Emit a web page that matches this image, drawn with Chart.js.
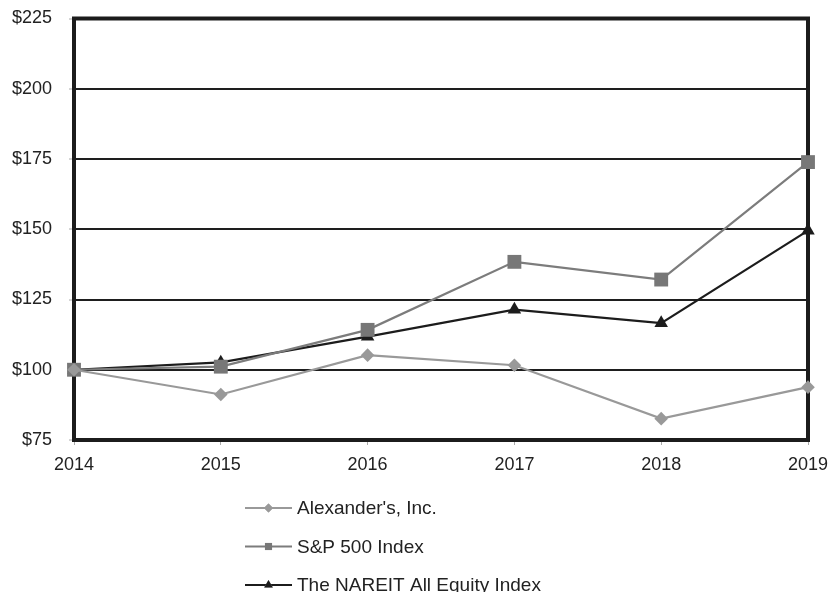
<!DOCTYPE html>
<html>
<head>
<meta charset="utf-8">
<script src="https://cdn.jsdelivr.net/npm/chart.js@4"></script>
<style>
html,body{margin:0;padding:0;background:#fff;}
#wrap{width:832px;height:592px;position:relative;}
</style>
</head>
<body>
<div id="wrap"><canvas id="c" width="832" height="592"></canvas></div>
<script>
const years = ["2014", "2015", "2016", "2017", "2018", "2019"];
const alexanders = [100, 91.2, 105.2, 101.6, 82.6, 93.8];
const sp500 = [100, 101.1, 114.2, 138.4, 132.1, 173.9];
const nareit = [100, 102.6, 111.8, 121.4, 116.6, 149.5];
const seriesNames = ["Alexander's, Inc.", "S&P 500 Index", "The NAREIT All Equity Index"];
const yTicks = [75, 100, 125, 150, 175, 200, 225];

const FONT = "'Liberation Sans', Arial, sans-serif";

const borderPlugin = {
  id: 'plotBorder',
  beforeDatasetsDraw(chart) {
    const a = chart.chartArea, ctx = chart.ctx;
    ctx.save();
    ctx.strokeStyle = '#1c1c1c';
    ctx.lineWidth = 4;
    ctx.strokeRect(a.left, a.top, a.right - a.left, a.bottom - a.top);
    ctx.restore();
  }
};

const legendPlugin = {
  id: 'vLegend',
  afterDraw(chart) {
    const ctx = chart.ctx;
    const x0 = 245, x1 = 292, rowY = [508, 546.5, 585];
    const markerR = [4.5, 5, 5];
    chart.data.datasets.forEach((ds, i) => {
      const y = rowY[i];
      ctx.save();
      ctx.strokeStyle = ds.borderColor;
      ctx.lineWidth = 2;
      ctx.beginPath();
      ctx.moveTo(x0, y);
      ctx.lineTo(x1, y);
      ctx.stroke();
      Chart.helpers.drawPoint(ctx, {
        pointStyle: ds.pointStyle,
        radius: markerR[i],
        borderWidth: 0,
        rotation: 0
      }, (x0 + x1) / 2, y);
      ctx.fillStyle = ds.pointBackgroundColor;
      ctx.fill();
      ctx.fillStyle = '#222';
      ctx.font = '19px ' + FONT;
      ctx.textBaseline = 'middle';
      ctx.textAlign = 'left';
      ctx.fillText(ds.label, 297, y + 1);
      ctx.restore();
    });
  }
};

new Chart(document.getElementById('c'), {
  type: 'line',
  data: {
    labels: years,
    datasets: [
      {
        label: seriesNames[0], data: alexanders,
        borderColor: '#999999', backgroundColor: '#999999',
        pointBackgroundColor: '#999999', pointBorderColor: '#999999',
        pointStyle: 'rectRot', pointRadius: 6.8, pointBorderWidth: 0,
        borderWidth: 2.2, tension: 0, clip: false
      },
      {
        label: seriesNames[1], data: sp500,
        borderColor: '#7c7c7c', backgroundColor: '#777777',
        pointBackgroundColor: '#777777', pointBorderColor: '#777777',
        pointStyle: 'rect', pointRadius: 9.8, pointBorderWidth: 0,
        borderWidth: 2.2, tension: 0, clip: false
      },
      {
        label: seriesNames[2], data: nareit,
        borderColor: '#1c1c1c', backgroundColor: '#1c1c1c',
        pointBackgroundColor: '#1c1c1c', pointBorderColor: '#1c1c1c',
        pointStyle: 'triangle', pointRadius: 7.8, pointBorderWidth: 0,
        borderWidth: 2.2, tension: 0, clip: false
      }
    ]
  },
  options: {
    responsive: false,
    animation: false,
    devicePixelRatio: 1,
    layout: { autoPadding: false, padding: { top: 18.5, right: 24, left: 0, bottom: 0 } },
    plugins: {
      legend: { display: false },
      tooltip: { enabled: false }
    },
    scales: {
      x: {
        type: 'category',
        offset: false,
        grid: { drawOnChartArea: false, drawTicks: true, tickLength: 5, tickColor: '#aaaaaa', tickWidth: 1 },
        border: { display: false },
        ticks: { color: '#222', font: { family: FONT, size: 18 }, padding: 9, maxRotation: 0, autoSkip: false },
        afterFit(s) { s.height = 152; s.paddingLeft = 0; s.paddingRight = 0; }
      },
      y: {
        min: 75, max: 225,
        afterBuildTicks(s) { s.ticks = yTicks.map(v => ({ value: v })); },
        grid: { color: '#1e1e1e', lineWidth: 2, drawTicks: true, tickLength: 5, tickColor: '#aaaaaa', tickWidth: 1 },
        border: { display: false },
        ticks: { color: '#222', font: { family: FONT, size: 18 }, padding: 17, callback: v => '$' + v },
        afterFit(s) { s.width = 74; s.paddingTop = 0; s.paddingBottom = 0; }
      }
    }
  },
  plugins: [borderPlugin, legendPlugin]
});
</script>
</body>
</html>
